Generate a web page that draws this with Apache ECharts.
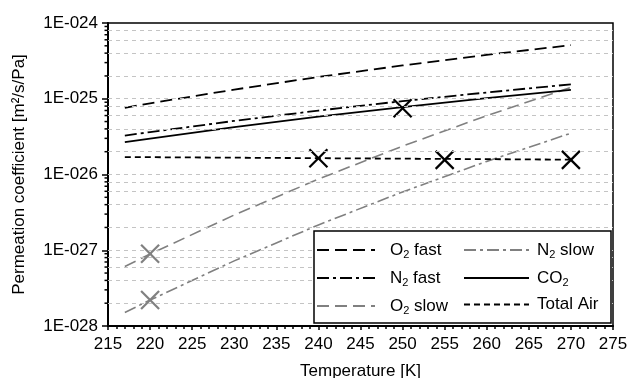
<!DOCTYPE html>
<html>
<head>
<meta charset="utf-8">
<script src="https://cdn.jsdelivr.net/npm/echarts@6/dist/echarts.min.js"></script>
<style>
  html, body { margin: 0; padding: 0; background: #fff; }
  #chart { width: 630px; height: 378px; }
</style>
</head>
<body>
<div id="chart"></div>
<script>
// Temperatures [K]
const temps = [217, 220, 230, 240, 250, 260, 270];

// Permeation coefficients [m2/s/Pa]
const o2Fast  = [7.6e-26, 8.7e-26, 1.32e-25, 1.94e-25, 2.75e-25, 3.8e-25, 5.1e-25];
const n2Fast  = [3.26e-26, 3.63e-26, 5.1e-26, 6.98e-26, 9.31e-26, 1.21e-25, 1.55e-25];
const co2     = [2.67e-26, 2.98e-26, 4.22e-26, 5.79e-26, 7.76e-26, 1.02e-25, 1.31e-25];
const o2Slow  = [6.1e-28, 8.9e-28, 2.92e-27, 8.69e-27, 2.37e-26, 5.98e-26, 1.41e-25];
const n2Slow  = [1.51e-28, 2.2e-28, 7.24e-28, 2.16e-27, 5.89e-27, 1.49e-26, 3.51e-26];
const airTemps = [217, 270];
const totalAir = [1.7e-26, 1.57e-26];

// measured points (crosses)
const blackCrosses = [[250, 7.5e-26], [240, 1.64e-26], [255, 1.56e-26], [270, 1.56e-26]];
const grayCrosses = [[220, 9.0e-28], [220, 2.2e-28]];

// axis
const yMin = 1e-28;
const yMax = 1e-24;
const decades = [-28, -27, -26, -25];
const gridMantissas = [1, 2, 4, 6, 8];
const tickMantissas = [2, 3, 4, 5, 6, 7, 8, 9];

// ECharts' log scale rounds very small numbers to 0, so the values are
// handed to the chart in units of 1e-28 and relabelled on the axis.
const UNIT = 1e28;
const u = (v) => v * UNIT;

const gridValues = [];
const minorTickValues = [];
decades.forEach((e) => {
  gridMantissas.forEach((m) => { if (!(m === 1 && e === -28)) gridValues.push(m * Math.pow(10, e)); });
  tickMantissas.forEach((m) => minorTickValues.push(m * Math.pow(10, e)));
});

const GRAY = "#808080";
const FONT = "Liberation Sans, Arial, sans-serif";

const pairs = (xs, ys) => xs.map((x, i) => [x, u(ys[i])]);

function lineSeries(name, xs, ys, color, type, width) {
  return {
    name,
    type: "line",
    data: pairs(xs, ys),
    symbol: "none",
    showSymbol: false,
    z: 3,
    itemStyle: { color },
    lineStyle: { color, width, type }
  };
}

function crossSeries(points, color) {
  return {
    type: "custom",
    coordinateSystem: "cartesian2d",
    data: points.map((p) => [p[0], u(p[1])]),
    z: 4,
    renderItem: (params, api) => {
      const p = api.coord([api.value(0), api.value(1)]);
      const r = 9;
      return {
        type: "group",
        children: [
          { type: "line", shape: { x1: p[0] - r, y1: p[1] - r, x2: p[0] + r, y2: p[1] + r }, style: { stroke: color, lineWidth: 2.2 } },
          { type: "line", shape: { x1: p[0] - r, y1: p[1] + r, x2: p[0] + r, y2: p[1] - r }, style: { stroke: color, lineWidth: 2.2 } }
        ]
      };
    }
  };
}

// "O2 fast" -> rich text with subscript 2
const subName = (name) => {
  const m = name.match(/^(O|N|CO)2(.*)$/);
  if (!m) return "{t|" + name + "}";
  return "{t|" + m[1] + "}{s|2}" + (m[2] ? "{t|" + m[2] + "}" : "");
};

const rich = {
  t: { fontSize: 17, fontFamily: FONT, color: "#000", lineHeight: 20 },
  s: { fontSize: 11, fontFamily: FONT, color: "#000", lineHeight: 20, verticalAlign: "bottom", padding: [9, 0, 0, 0] }
};

const legendBase = {
  orient: "vertical",
  top: 240,
  padding: 0,
  itemHeight: 14,
  itemGap: 8,
  z: 10,
  itemStyle: { opacity: 0 },
  formatter: subName
};

const chart = echarts.init(document.getElementById("chart"), null, { renderer: "canvas" });

chart.setOption({
  animation: false,
  backgroundColor: "#fff",
  grid: {
    left: 108, right: 17, top: 23, bottom: 52,
    containLabel: false,
    outerBoundsMode: "none",
    show: true, borderColor: "#000", borderWidth: 1.5
  },
  xAxis: {
    type: "value",
    min: 215,
    max: 275,
    interval: 5,
    name: "Temperature [K]",
    nameLocation: "middle",
    nameGap: 37,
    nameTextStyle: { fontSize: 17, fontFamily: FONT, color: "#000" },
    axisLine: { show: true, onZero: false, lineStyle: { color: "#000", width: 2 } },
    axisTick: { show: true, inside: false, length: 4, lineStyle: { color: "#000", width: 1.5 } },
    minorTick: { show: true, splitNumber: 5, length: 3, lineStyle: { color: "#000", width: 1.5 } },
    axisLabel: { fontSize: 17, fontFamily: FONT, color: "#000", margin: 10 },
    splitLine: { show: false }
  },
  yAxis: {
    type: "log",
    logBase: 10,
    min: u(yMin),
    max: u(yMax),
    name: "Permeation coefficient [m²/s/Pa]",
    nameLocation: "middle",
    nameGap: 80,
    nameTextStyle: { fontSize: 17, fontFamily: FONT, color: "#000" },
    axisLine: { show: true, lineStyle: { color: "#000", width: 2 } },
    axisTick: { show: true, inside: false, length: 6, lineStyle: { color: "#000", width: 1.5 } },
    axisLabel: {
      fontSize: 17,
      fontFamily: FONT,
      color: "#000",
      margin: 10,
      formatter: (v) => {
        const e = Math.round(Math.log10(v / UNIT));
        return "1E-" + String(-e).padStart(3, "0");
      }
    },
    splitLine: { show: false }
  },
  legend: [
    Object.assign({}, legendBase, {
      data: ["O2 fast", "N2 fast", "O2 slow"],
      left: 316,
      itemWidth: 58,
      textStyle: { rich, padding: [0, 0, 0, 10] }
    }),
    Object.assign({}, legendBase, {
      data: ["N2 slow", "CO2", "Total Air"],
      left: 463,
      itemWidth: 65,
      textStyle: { rich, padding: [0, 0, 0, 3] }
    })
  ],
  graphic: [
    {
      type: "rect",
      z: 8,
      shape: { x: 314, y: 231, width: 297, height: 92 },
      style: { fill: "#fff", stroke: "#000", lineWidth: 1.5 }
    }
  ],
  series: [
    // light dashed grid lines on the log axis
    {
      type: "line",
      data: [[215, u(1e-26)]],
      symbol: "none",
      lineStyle: { opacity: 0 },
      z: 1,
      markLine: {
        silent: true,
        symbol: ["none", "none"],
        label: { show: false },
        lineStyle: { color: "#c4c4c4", width: 1, type: [4, 4] },
        data: gridValues.map((v) => ({ yAxis: u(v) }))
      }
    },
    // minor ticks 2..9 on the log axis
    {
      type: "custom",
      coordinateSystem: "cartesian2d",
      data: minorTickValues.map((v) => [215, u(v)]),
      clip: false,
      z: 5,
      renderItem: (params, api) => {
        const p = api.coord([api.value(0), api.value(1)]);
        return { type: "line", shape: { x1: p[0] - 3.5, y1: p[1], x2: p[0], y2: p[1] }, style: { stroke: "#000", lineWidth: 1.5 } };
      }
    },
    lineSeries("O2 fast", temps, o2Fast, "#000", [12, 6], 1.8),
    lineSeries("N2 fast", temps, n2Fast, "#000", [12, 4, 3, 4], 1.8),
    lineSeries("O2 slow", temps, o2Slow, GRAY, [12, 6], 1.6),
    lineSeries("N2 slow", temps, n2Slow, GRAY, [12, 4, 3, 4], 1.6),
    lineSeries("CO2", temps, co2, "#000", "solid", 1.8),
    lineSeries("Total Air", airTemps, totalAir, "#000", [6, 4], 1.8),
    crossSeries(blackCrosses, "#000"),
    crossSeries(grayCrosses, GRAY)
  ]
});
</script>
</body>
</html>
